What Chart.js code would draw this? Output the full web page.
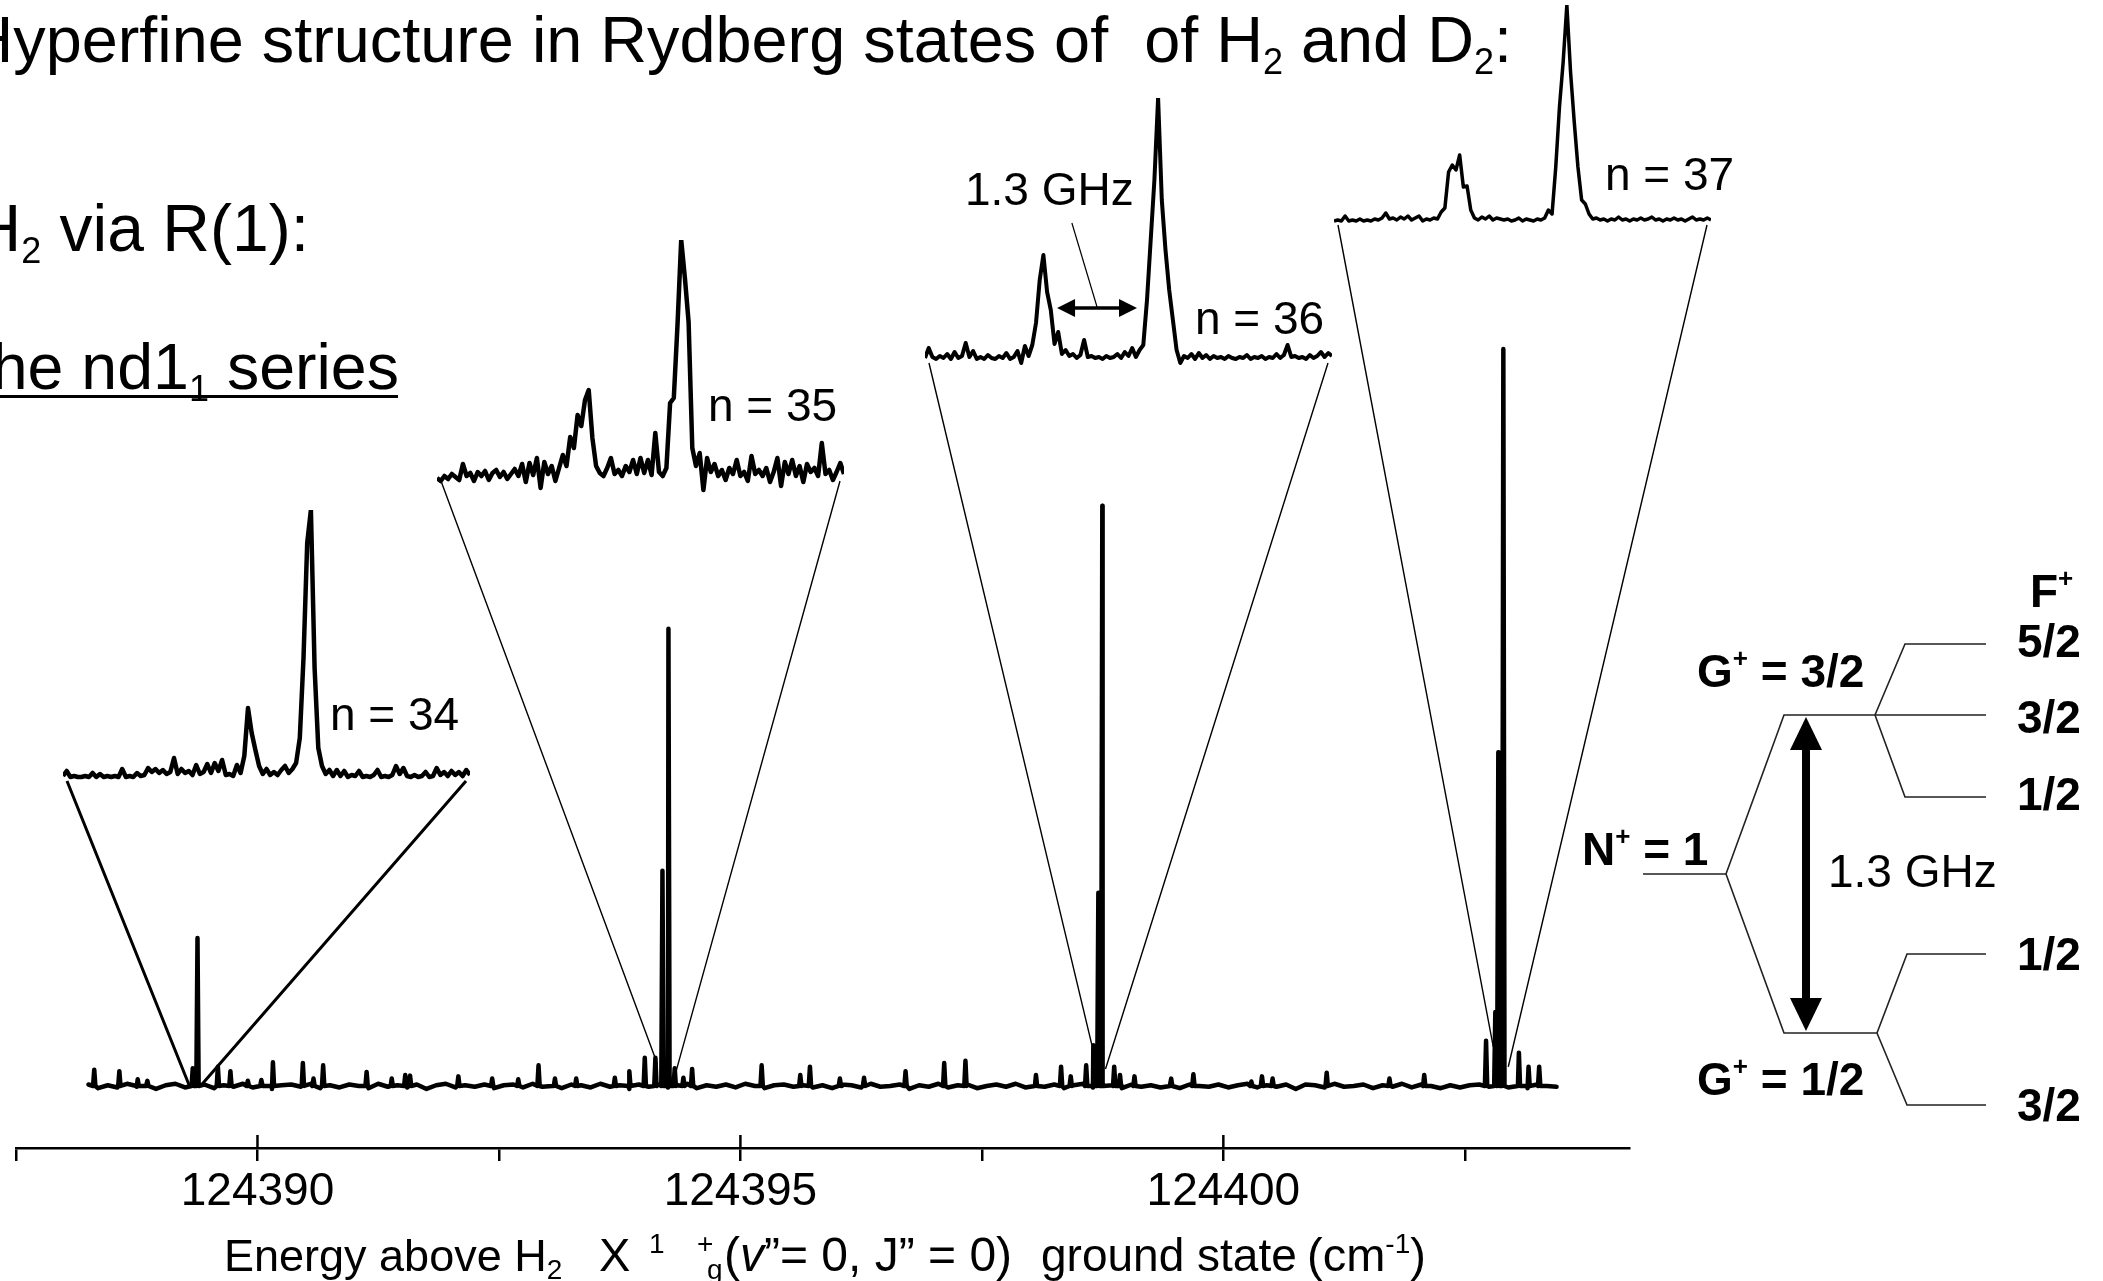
<!DOCTYPE html>
<html>
<head>
<meta charset="utf-8">
<script src="https://cdn.jsdelivr.net/npm/chart.js"></script>
<style>
  html, body { margin: 0; padding: 0; background: #fff; }
  body { width: 2103px; height: 1281px; position: relative; overflow: hidden; }
  canvas { position: absolute; }
  #overlay { position: absolute; left: 0; top: 0; pointer-events: none; }
  #overlay text { white-space: pre; }
</style>
</head>
<body>
<canvas id="mainChart" width="2103" height="1281" style="left:0;top:0"></canvas>
<canvas id="inset34"></canvas>
<canvas id="inset35"></canvas>
<canvas id="inset36"></canvas>
<canvas id="inset37"></canvas>

<svg id="overlay" width="2103" height="1281" xml:space="preserve" font-family="'Liberation Sans', Arial, sans-serif" fill="#000">
  <!-- heading -->
  <text x="1512" y="62" text-anchor="end" font-size="64.8">Hyperfine structure in Rydberg states of  of H<tspan font-size="36" dy="12">2</tspan><tspan dy="-12"> and D</tspan><tspan font-size="36" dy="12">2</tspan><tspan dy="-12">:</tspan></text>
  <text x="309" y="251" text-anchor="end" font-size="66">H<tspan font-size="36" dy="12">2</tspan><tspan dy="-12"> via R(1):</tspan></text>
  <text x="399" y="389" text-anchor="end" font-size="64.5">the nd1<tspan font-size="36" dy="12">1</tspan><tspan dy="-12"> series</tspan></text>
  <rect x="0" y="395" width="398" height="3"/>

  <!-- inset labels -->
  <g font-size="46">
    <text x="330" y="730">n = 34</text>
    <text x="708" y="421">n = 35</text>
    <text x="1195" y="334">n = 36</text>
    <text x="1605" y="190">n = 37</text>
    <text x="965" y="205">1.3 GHz</text>
  </g>

  <!-- x axis title -->
  <text y="1271" font-size="47"><tspan x="224" font-size="45">Energy above H</tspan><tspan font-size="28" dy="8">2</tspan><tspan x="599" dy="-8">X</tspan><tspan x="649" font-size="28" dy="-18">1</tspan><tspan x="697" font-size="28">+</tspan><tspan x="707" font-size="28" dy="26">g</tspan><tspan x="724" dy="-8" font-size="48">(</tspan><tspan font-style="italic" font-size="48">v</tspan><tspan font-size="48">”= 0, J” = 0)</tspan><tspan x="1041" font-size="46">ground state</tspan><tspan x="1307">(cm</tspan><tspan font-size="28" dy="-18">-1</tspan><tspan dy="18">)</tspan></text>

  <!-- level diagram -->
  <g stroke="#222" stroke-width="1.6" fill="none">
    <polyline points="1643,874 1726,874 1784,715 1986,715"/>
    <polyline points="1875,715 1905,644 1986,644"/>
    <polyline points="1875,715 1905,797 1986,797"/>
    <polyline points="1726,874 1784,1033 1877,1033 1907,954 1986,954"/>
    <polyline points="1877,1033 1907,1105 1986,1105"/>
  </g>
  <line x1="1806" y1="745" x2="1806" y2="1003" stroke="#000" stroke-width="8"/>
  <polygon points="1806,717 1790,750 1822,750"/>
  <polygon points="1806,1031 1790,998 1822,998"/>

  <g font-size="46" font-weight="bold">
    <text x="2030" y="607">F<tspan font-size="26" dy="-20">+</tspan></text>
    <text x="2017" y="657">5/2</text>
    <text x="2017" y="733">3/2</text>
    <text x="2017" y="810">1/2</text>
    <text x="2017" y="970">1/2</text>
    <text x="2017" y="1121">3/2</text>
    <text x="1697" y="687">G<tspan font-size="26" dy="-20">+</tspan><tspan dy="20"> = 3/2</tspan></text>
    <text x="1582" y="865">N<tspan font-size="26" dy="-20">+</tspan><tspan dy="20"> = 1</tspan></text>
    <text x="1697" y="1095">G<tspan font-size="26" dy="-20">+</tspan><tspan dy="20"> = 1/2</tspan></text>
  </g>
  <text x="1828" y="887" font-size="46">1.3 GHz</text>
</svg>

<script>
// ---- survey spectrum (energy in cm-1, intensity in arb. units) ----
const noiseStart = 124388.25;
const noiseStep = 0.1;
const baselineNoise = [
  0.2,-0.3,0.1,-0.2,0.3,-0.1,0.2,-0.4,0.1,0.3,-0.2,
  0.0,0.2,-0.3,0.1,-0.1,0.3,-0.2,0.2,-0.4,0.1,0.2,
  -0.1,0.3,-0.3,0.1,-0.2,0.2,0.0,-0.3,0.3,-0.1,0.1,
  -0.2,0.2,-0.4,0.1,0.3,-0.2,0.1,-0.1,0.2,-0.3,0.1,
  0.2,-0.2,0.3,-0.1,0.0,-0.3,0.2,0.1,-0.2,0.3,-0.1,
  0.1,-0.4,0.2,-0.1,0.2,-0.2,0.1,0.3,-0.3,0.1,-0.1,
  0.2,-0.2,0.3,0.0,-0.3,0.1,0.2,-0.1,0.1,-0.2,0.1,
  -0.3,0.2,0.1,-0.2,0.3,-0.1,0.0,0.2,-0.4,0.1,-0.1,
  0.3,-0.2,0.1,0.2,-0.3,0.0,0.2,-0.1,0.3,-0.2,0.1,
  -0.1,0.2,-0.3,0.1,0.3,-0.2,0.0,0.1,-0.3,0.2,-0.1,
  0.1,-0.2,0.3,-0.3,0.2,0.0,-0.1,0.2,-0.2,0.1,0.3,
  -0.2,0.1,-0.1,0.2,-0.4,0.2,0.1,-0.2,0.3,-0.1,0.0,
  0.2,-0.3,0.1,-0.1,0.3,-0.2,0.2,0.0,-0.3,0.1,-0.2,
  0.1,0.2,-0.1,0.3,-0.2,0.1,-0.3,0.2,0.0,-0.1
];
const spikeE = [
  124388.31,124388.57,124388.76,124388.86,124389.33,124389.379,124389.59,124389.72,124389.90,124390.04,
  124390.16,124390.47,124390.58,124390.68,124391.13,124391.39,124391.53,124391.58,124392.08,124392.43,
  124392.70,124392.91,124393.08,124393.30,124393.70,124393.85,124394.01,124394.12,124394.193,124394.255,
  124394.32,124394.41,124394.50,124395.22,124395.62,124395.72,124396.03,124396.28,124396.71,124397.11,
  124397.33,124398.06,124398.32,124398.42,124398.58,124398.654,124398.706,124398.747,124398.87,124398.93,
  124399.08,124399.46,124399.69,124400.29,124400.40,124400.51,124401.07,124401.72,124402.08,124402.72,
  124402.816,124402.847,124402.899,124403.06,124403.16,124403.27
];
const spikeH = [
  2.2,2.0,0.9,0.7,2.4,20,2.6,2.0,0.7,0.8,
  3.2,3.1,1.0,2.8,1.9,1.0,1.5,1.4,1.3,1.0,
  0.9,2.8,1.0,1.0,1.1,2.0,3.8,3.8,29.1,61.8,
  2.4,1.1,2.3,2.8,1.5,2.6,1.0,1.1,2.0,3.1,
  3.4,1.5,2.6,1.3,2.8,5.5,26.1,78.4,2.6,1.5,
  1.3,1.0,1.6,0.6,1.3,1.0,1.8,1.0,1.5,6.1,
  10,45.1,99.6,4.5,2.6,2.6
];
const spikeHalfWidth = 0.012;

// ---- high-resolution scans (arb. units, evenly spaced) ----
const inset34 = [
  2,7,1,2,1,1,2,1,5,1,
  4,1,2,1,2,1,9,1,2,1,
  5,2,3,10,6,9,5,8,4,6,
  20,4,9,5,7,3,13,4,6,14,
  5,15,7,18,3,4,2,13,5,22,
  70,45,28,12,4,9,3,6,3,8,
  12,5,9,15,40,120,235,268,110,30,
  12,4,8,2,8,2,7,1,3,2,
  7,1,2,1,3,8,1,2,1,3,
  12,4,10,2,1,3,1,2,6,1,
  2,10,3,6,2,7,3,6,2,8,
  3
];
const inset35 = [
  0,-3,2,-1,4,1,-2,14,2,5,
  -3,6,2,7,-2,5,8,1,6,-1,
  4,9,2,14,-4,15,3,20,-10,16,
  4,12,-3,10,23,12,41,30,63,52,
  78,88,40,12,5,2,10,20,4,8,
  2,12,6,18,4,20,5,18,3,45,
  6,2,10,75,80,153,238,200,156,30,
  12,25,-12,20,6,14,2,8,-2,10,
  4,18,2,6,-3,22,4,8,2,10,
  -4,6,20,-8,16,4,18,2,12,-4,
  14,6,10,2,35,4,8,-2,6,15,4
];
const inset36 = [
  2,12,3,1,4,2,6,1,8,2,
  4,17,3,9,1,3,1,5,2,1,
  4,2,7,1,3,9,-3,14,4,15,
  37,80,105,68,50,16,28,6,10,4,
  6,2,5,20,3,4,2,3,1,4,
  2,3,6,2,8,4,12,3,10,15,
  60,120,180,262,160,110,70,40,10,-3,
  4,2,6,1,7,2,5,1,4,2,
  3,1,4,2,1,3,2,5,1,3,
  2,4,1,3,2,6,2,5,15,3,
  4,2,3,1,5,2,4,8,3,7,4
];
const inset37 = [
  1,2,1,6,1,2,1,3,1,2,
  1,3,2,4,9,3,4,2,5,3,
  6,2,4,6,1,3,2,4,3,10,
  14,50,57,52,67,35,36,12,4,2,
  5,3,6,2,4,3,2,3,1,2,
  4,1,3,2,1,3,2,4,12,8,
  55,115,160,217,150,100,55,22,18,8,
  3,4,2,3,1,3,2,5,2,3,
  1,3,2,4,2,3,5,2,3,1,
  3,2,4,2,3,1,3,5,2,3,
  2,4,2
];

// where the zoom lines meet the survey trace (energy, intensity)
const zoomFootE = [[124389.296, 124389.41], [124394.14, 124394.33], [124398.64, 124398.78], [124402.795, 124402.95]];
const zoomFootI = [[0, 0], [3.0, 1.8], [5.5, 2.3], [5.3, 2.6]];

// page placement of the scans
const insetBoxes = [
  { id: 'inset34', values: inset34, left: 63,   right: 470,  baseline: 778, width: 4.5, zoomWidth: 3 },
  { id: 'inset35', values: inset35, left: 437,  right: 844,  baseline: 478, width: 4.5, zoomWidth: 1.4 },
  { id: 'inset36', values: inset36, left: 925,  right: 1332, baseline: 360, width: 4,   zoomWidth: 1.4 },
  { id: 'inset37', values: inset37, left: 1334, right: 1711, baseline: 222, width: 3.5, zoomWidth: 1.4 }
];
const insetFloor = -16;
const pad = 6;

Chart.defaults.font.family = "'Liberation Sans', Arial, sans-serif";
Chart.defaults.color = '#000';

// build the survey trace
const trace = [];
baselineNoise.forEach((v, i) => trace.push({ x: noiseStart + i * noiseStep, y: v }));
spikeE.forEach((e, i) => {
  trace.push({ x: e - spikeHalfWidth, y: 0 });
  trace.push({ x: e, y: spikeH[i] });
  trace.push({ x: e + spikeHalfWidth, y: 0 });
});
trace.sort((a, b) => a.x - b.x);

const surveyExtras = {
  id: 'surveyExtras',
  afterDraw(chart) {
    const { ctx, chartArea } = chart;
    const x = chart.scales.x, y = chart.scales.y;
    ctx.save();
    ctx.strokeStyle = '#000';
    // labelled ticks also reach up into the plot
    ctx.lineWidth = 2.5;
    x.ticks.forEach(t => {
      if (Math.abs(t.value % 5) < 1e-6) {
        const px = x.getPixelForValue(t.value);
        ctx.beginPath();
        ctx.moveTo(px, chartArea.bottom);
        ctx.lineTo(px, chartArea.bottom - 13);
        ctx.stroke();
      }
    });
    // zoom lines from each scan down to its line in the survey
    insetBoxes.forEach((b, k) => {
      ctx.lineWidth = b.zoomWidth;
      ctx.beginPath();
      ctx.moveTo(b.left + 4, b.baseline + 3);
      ctx.lineTo(x.getPixelForValue(zoomFootE[k][0]), y.getPixelForValue(zoomFootI[k][0]));
      ctx.moveTo(b.right - 4, b.baseline + 3);
      ctx.lineTo(x.getPixelForValue(zoomFootE[k][1]), y.getPixelForValue(zoomFootI[k][1]));
      ctx.stroke();
    });
    ctx.restore();
  }
};

new Chart(document.getElementById('mainChart'), {
  type: 'line',
  data: {
    datasets: [{
      data: trace,
      borderColor: '#000',
      borderWidth: 4.5,
      borderJoinStyle: 'round',
      borderCapStyle: 'round',
      pointRadius: 0,
      tension: 0
    }]
  },
  options: {
    responsive: false,
    animation: false,
    events: [],
    layout: { padding: { left: 16, right: 474, top: 0, bottom: 0 } },
    plugins: { legend: { display: false }, tooltip: { enabled: false } },
    scales: {
      x: {
        type: 'linear',
        min: 124387.5,
        max: 124404.2,
        afterFit: s => { s.height = 133; },
        border: { display: true, color: '#000', width: 2.5 },
        grid: { display: true, drawOnChartArea: false, drawTicks: true, tickLength: 13, color: '#000', lineWidth: 2.5 },
        ticks: {
          stepSize: 2.5,
          includeBounds: false,
          autoSkip: false,
          maxRotation: 0,
          padding: 4,
          font: { size: 46 },
          color: '#000',
          callback: v => (Math.abs(v % 5) < 1e-6 ? String(v) : '')
        }
      },
      y: { display: false, min: -8.38, max: 146.76 }
    }
  },
  plugins: [surveyExtras]
});

// double arrow and pointer for the 1.3 GHz splitting in the n = 36 scan
const splitArrow = {
  id: 'splitArrow',
  afterDraw(chart) {
    const { ctx } = chart;
    const x = chart.scales.x, y = chart.scales.y;
    const x1 = x.getPixelForValue(35.7), x2 = x.getPixelForValue(57.3), yy = y.getPixelForValue(52);
    ctx.save();
    ctx.strokeStyle = '#000';
    ctx.fillStyle = '#000';
    ctx.lineWidth = 3.5;
    ctx.beginPath();
    ctx.moveTo(x1 + 14, yy);
    ctx.lineTo(x2 - 14, yy);
    ctx.stroke();
    [[x1, 1], [x2, -1]].forEach(([px, d]) => {
      ctx.beginPath();
      ctx.moveTo(px, yy);
      ctx.lineTo(px + d * 18, yy - 9);
      ctx.lineTo(px + d * 18, yy + 9);
      ctx.closePath();
      ctx.fill();
    });
    ctx.lineWidth = 1.2;
    ctx.beginPath();
    ctx.moveTo(x.getPixelForValue(39.7), y.getPixelForValue(137));
    ctx.lineTo(x.getPixelForValue(46.5), y.getPixelForValue(53));
    ctx.stroke();
    ctx.restore();
  }
};

insetBoxes.forEach(b => {
  const peak = Math.max(...b.values);
  const cv = document.getElementById(b.id);
  cv.width = b.right - b.left + 2 * pad;
  cv.height = peak - insetFloor + 2 * pad;
  cv.style.left = (b.left - pad) + 'px';
  cv.style.top = (b.baseline - peak - pad) + 'px';
  new Chart(cv, {
    type: 'line',
    data: {
      datasets: [{
        data: b.values.map((v, i) => ({ x: i, y: v })),
        borderColor: '#000',
        borderWidth: b.width,
        borderJoinStyle: 'round',
        pointRadius: 0,
        tension: 0
      }]
    },
    options: {
      responsive: false,
      animation: false,
      events: [],
      layout: { padding: pad },
      plugins: { legend: { display: false }, tooltip: { enabled: false } },
      scales: {
        x: { type: 'linear', display: false, min: 0, max: b.values.length - 1 },
        y: { display: false, min: insetFloor, max: peak }
      }
    },
    plugins: b.id === 'inset36' ? [splitArrow] : []
  });
});
</script>
</body>
</html>
